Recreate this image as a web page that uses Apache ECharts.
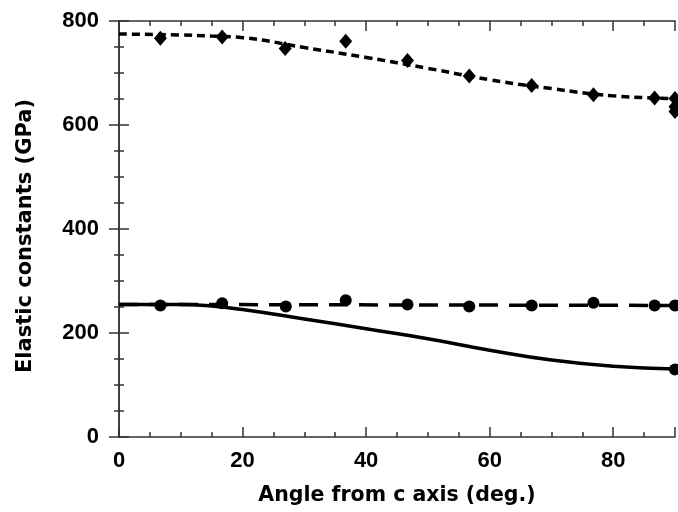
<!DOCTYPE html>
<html>
<head>
<meta charset="utf-8">
<title>Elastic constants vs angle</title>
<script src="https://cdn.jsdelivr.net/npm/echarts@6/dist/echarts.min.js"></script>
<style>
	html, body {margin: 0; padding: 0; background: #fff;}
	#chart {width: 678px; height: 512px;}
</style>
</head>
<body>
<div id="chart"></div>
<script>
"use strict";

// measured points (deg, GPa)
var diamondX = [6.7, 16.7, 26.9, 36.7, 46.7, 56.7, 66.8, 76.8, 86.7, 90, 90, 90];
var diamondY = [767, 769, 747, 761, 724, 694, 676, 658, 652, 651, 635, 626];
var circleX = [6.7, 16.7, 27, 36.7, 46.7, 56.7, 66.8, 76.8, 86.7, 90, 90];
var circleY = [253, 257, 251, 263, 255, 251, 253, 258, 253, 253, 130];

// fitted curves
var curveX = [0, 10, 15, 20, 30, 40, 50, 60, 70, 80, 90];
var upperCurve = [775, 773, 771, 768, 749, 730, 709, 687, 670, 656, 651];
var lowerCurve = [255, 255, 252, 245, 227, 208, 189, 167, 148, 136, 131];
var flatX = [0, 45, 90];
var flatCurve = [255, 254, 253];

var xTicks = [0, 20, 40, 60, 80];
var xName = 'Angle from c axis (deg.)';
var yName = 'Elastic constants (GPa)';

function pairs(xs, ys) {
	var d = [];
	for (var i = 0, len = xs.length; i < len; i++) {
		d.push([xs[i], ys[i]]);
	}
	return d;
}

var tickFont = '"Liberation Sans", Arial, Helvetica, sans-serif';
var nameFont = '"DejaVu Sans", Verdana, sans-serif';
var ink = '#000';
var axisInk = '#333';

function xAxis(pos, interval, tickLen, labels) {
	return {
		type: 'value',
		position: pos,
		min: 0,
		max: 90,
		interval: interval,
		name: labels ? xName : '',
		nameLocation: 'middle',
		nameGap: 48,
		nameTextStyle: {fontFamily: nameFont, fontWeight: 'bold', fontSize: 20.5, color: ink},
		axisLine: {show: tickLen > 6, lineStyle: {color: axisInk, width: 1.5}},
		axisTick: {show: true, inside: true, length: tickLen, lineStyle: {color: axisInk, width: 1.5}},
		axisLabel: {
			show: labels,
			margin: 13,
			fontFamily: tickFont,
			fontWeight: 'bold',
			fontSize: 22,
			color: ink,
			formatter: function (v) {
				return xTicks.indexOf(v) >= 0 ? String(v) : '';
			}
		},
		splitLine: {show: false}
	};
}

function yAxis(pos, labels) {
	return {
		type: 'value',
		position: pos,
		min: 0,
		max: 800,
		interval: 200,
		name: labels ? yName : '',
		nameLocation: 'middle',
		nameGap: 83,
		nameRotate: 90,
		nameTextStyle: {
			fontFamily: nameFont,
			fontWeight: 'bold',
			fontSize: 21,
			color: ink,
			padding: [0, 14, 0, 0]
		},
		axisLine: {show: true, lineStyle: {color: axisInk, width: 1.5}},
		axisTick: {show: true, inside: true, length: 10, lineStyle: {color: axisInk, width: 1.5}},
		minorTick: {show: true, splitNumber: 4, length: 5, lineStyle: {color: axisInk, width: 1.5}},
		axisLabel: {
			show: labels,
			margin: 20,
			fontFamily: tickFont,
			fontWeight: 'bold',
			fontSize: 22,
			color: ink
		},
		splitLine: {show: false}
	};
}

var chart = echarts.init(document.getElementById('chart'), null, {renderer: 'canvas'});

var option = {
	backgroundColor: '#fff',
	animation: false,
	grid: {left: 119, right: 1, top: 21, bottom: 75},
	xAxis: [
		xAxis('bottom', 20, 10, true),
		xAxis('bottom', 5, 5, false),
		xAxis('top', 20, 10, false),
		xAxis('top', 5, 5, false)
	],
	yAxis: [
		yAxis('left', true),
		yAxis('right', false)
	],
	series: [
		{
			name: 'upper fit',
			type: 'line',
			data: pairs(curveX, upperCurve),
			smooth: true,
			showSymbol: false,
			lineStyle: {color: ink, width: 3.5, type: [8, 5]},
			z: 2
		},
		{
			name: 'flat fit',
			type: 'line',
			data: pairs(flatX, flatCurve),
			showSymbol: false,
			lineStyle: {color: ink, width: 3.5, type: [19, 11]},
			z: 2
		},
		{
			name: 'lower fit',
			type: 'line',
			data: pairs(curveX, lowerCurve),
			smooth: true,
			showSymbol: false,
			lineStyle: {color: ink, width: 3.5},
			z: 2
		},
		{
			name: 'diamonds',
			type: 'scatter',
			data: pairs(diamondX, diamondY),
			symbol: 'diamond',
			symbolSize: [13, 15],
			itemStyle: {color: ink, opacity: 1},
			clip: false,
			z: 3
		},
		{
			name: 'circles',
			type: 'scatter',
			data: pairs(circleX, circleY),
			symbol: 'circle',
			symbolSize: 12,
			itemStyle: {color: ink, opacity: 1},
			clip: false,
			z: 3
		}
	]
};

chart.setOption(option);
</script>
</body>
</html>
